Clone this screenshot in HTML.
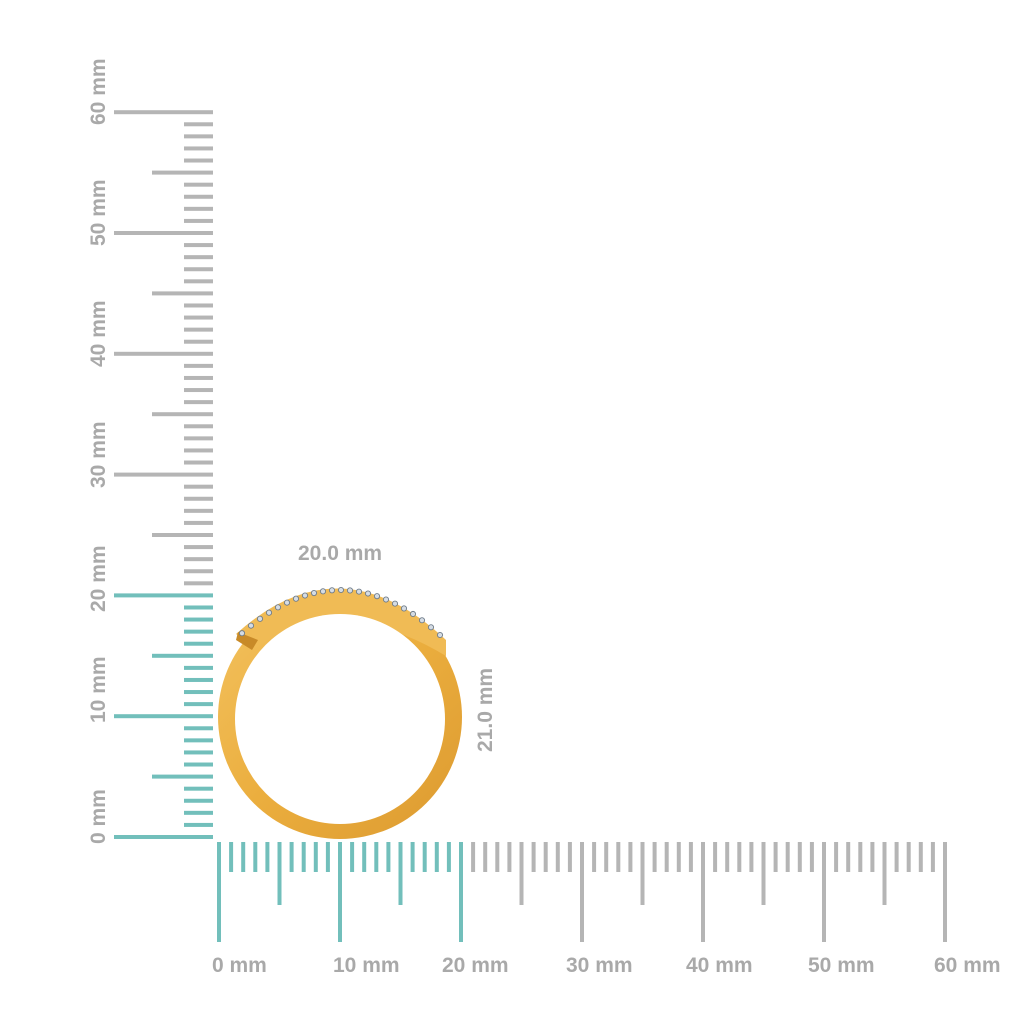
<!DOCTYPE html>
<html><head><meta charset="utf-8"><style>
body{margin:0;background:#fff;width:1024px;height:1024px;overflow:hidden}
svg{display:block}
text{font-family:"Liberation Sans",sans-serif;font-weight:bold;fill:#a9a9a9;font-size:21px}
</style></head><body>
<svg width="1024" height="1024" viewBox="0 0 1024 1024" id="s">
<defs>
<linearGradient id="g" x1="0" y1="0" x2="1" y2="1">
<stop offset="0" stop-color="#f3c260"/><stop offset="0.5" stop-color="#ebae3e"/><stop offset="1" stop-color="#dc9a30"/>
</linearGradient>
</defs>
<g id="ticks"></g>
<circle cx="340" cy="717" r="122" fill="url(#g)"/>
<path d="M236 634 Q340 540 446 640 L446 656 Q340 592 256 648 Z" fill="#f0bb55"/>
<circle cx="340" cy="719" r="105" fill="#fff"/>
<path d="M238 632 L258 640 L252 650 L236 640 Z" fill="#c88a28"/>
<g id="dia"></g>
<text x="298" y="560">20.0 mm</text>
<text transform="translate(492,752) rotate(-90)">21.0 mm</text>
<text x="212" y="972">0 mm</text>
<text x="333" y="972">10 mm</text>
<text x="442" y="972">20 mm</text>
<text x="566" y="972">30 mm</text>
<text x="686" y="972">40 mm</text>
<text x="808" y="972">50 mm</text>
<text x="934" y="972">60 mm</text>
<text transform="translate(105,844) rotate(-90)">0 mm</text>
<text transform="translate(105,723) rotate(-90)">10 mm</text>
<text transform="translate(105,612) rotate(-90)">20 mm</text>
<text transform="translate(105,488) rotate(-90)">30 mm</text>
<text transform="translate(105,367) rotate(-90)">40 mm</text>
<text transform="translate(105,246) rotate(-90)">50 mm</text>
<text transform="translate(105,125) rotate(-90)">60 mm</text>
</svg>
<script>
var t=document.getElementById("ticks"),s="";
for(var i=0;i<=60;i++){
 var c=i<=20?"#72bfbb":"#b5b5b5";
 var x=219+i*12.1,L=i%10==0?942:(i%5==0?905:872);
 s+='<rect x="'+(x-2)+'" y="842" width="4" height="'+(L-842)+'" fill="'+c+'"/>';
 var y=837-i*12.08,X=i%10==0?114:(i%5==0?152:184);
 s+='<rect x="'+X+'" y="'+(y-2)+'" width="'+(213-X)+'" height="4" fill="'+c+'"/>';
}
t.innerHTML=s;
var d="",dg=document.getElementById("dia");
for(var k=0;k<=22;k++){var cx=242+k*(440-242)/22;var cy=590+0.0045*(cx-340)*(cx-340);
d+='<circle cx="'+cx+'" cy="'+cy+'" r="2.6" fill="#d5dce4" stroke="#6f7c8a" stroke-width="0.9"/>';}
dg.innerHTML=d;
</script>
</body></html>
